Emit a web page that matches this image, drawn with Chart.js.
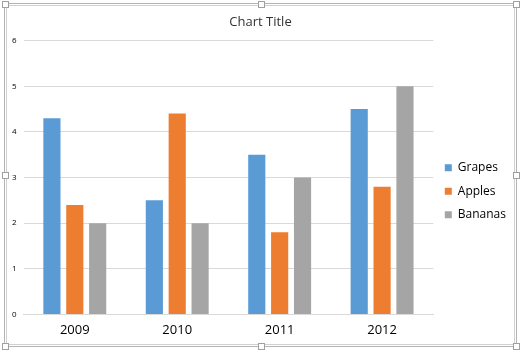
<!DOCTYPE html>
<html>
<head>
<meta charset="utf-8">
<script src="https://cdn.jsdelivr.net/npm/chart.js@4.4.1/dist/chart.umd.min.js"></script>
<style>
  html, body { margin: 0; padding: 0; background: #fff; }
  .chart-container { position: relative; width: 522px; height: 351px; }
</style>
</head>
<body>
<div class="chart-container">
  <canvas id="myChart" width="522" height="351"></canvas>
</div>
<script>
  var years = ["2009", "2010", "2011", "2012"];
  var grapes = [4.3, 2.5, 3.5, 4.5];
  var apples = [2.4, 4.4, 1.8, 2.8];
  var bananas = [2.0, 2.0, 3.0, 5.0];
  var yTicks = [0, 1, 2, 3, 4, 5, 6];

  var font = "'Open Sans', 'Liberation Sans', sans-serif";

  // Excel-style selection frame with handles
  var selectionFrame = {
    id: "selectionFrame",
    afterDraw: function (chart) {
      var ctx = chart.ctx;
      ctx.save();
      ctx.strokeStyle = "#b4b4b4";
      ctx.lineWidth = 1;
      ctx.strokeRect(4.5, 3.5, 512, 343);
      ctx.strokeStyle = "#d0d0d0";
      ctx.strokeRect(6.5, 5.5, 508, 339);
      var handles = [
        [5, 4], [261, 4], [516, 4],
        [5, 175], [516, 175],
        [5, 346], [261, 346], [516, 346]
      ];
      handles.forEach(function (h) {
        ctx.fillStyle = "#ffffff";
        ctx.fillRect(h[0] - 3, h[1] - 3, 7, 7);
        ctx.strokeStyle = "#a0a0a0";
        ctx.strokeRect(h[0] - 2.5, h[1] - 2.5, 6, 6);
      });
      ctx.restore();
    }
  };

  var ctx = document.getElementById("myChart").getContext("2d");
  var config = {
    type: "bar",
    data: {
      labels: years,
      datasets: [
        { label: "Grapes", data: grapes, backgroundColor: "#5b9bd5" },
        { label: "Apples", data: apples, backgroundColor: "#ed7d31" },
        { label: "Bananas", data: bananas, backgroundColor: "#a5a5a5" }
      ]
    },
    options: {
      responsive: false,
      animation: false,
      layout: { padding: { left: 5, right: 6, top: 14, bottom: 5 } },
      datasets: {
        bar: { categoryPercentage: 0.67, barPercentage: 0.75 }
      },
      scales: {
        x: {
          grid: { display: false, drawTicks: false },
          border: { display: true, color: "#d9d9d9" },
          ticks: { color: "#000", font: { family: font, size: 13 }, padding: 8 }
        },
        y: {
          min: 0,
          max: 6,
          afterBuildTicks: function (axis) {
            axis.ticks = yTicks.map(function (v) { return { value: v }; });
          },
          grid: { color: "#d9d9d9", drawTicks: false },
          border: { display: false },
          ticks: { color: "#000", font: { family: font, size: 8 }, padding: 7 }
        }
      },
      plugins: {
        title: {
          display: true,
          text: "Chart Title",
          color: "#333",
          font: { family: font, size: 13, weight: "normal" },
          padding: { top: 0, bottom: 11 }
        },
        legend: {
          position: "right",
          title: {
            display: true,
            text: " ",
            font: { family: font, size: 12 },
            padding: 4
          },
          labels: {
            boxWidth: 7,
            boxHeight: 7,
            padding: 11.5,
            color: "#000",
            font: { family: font, size: 12 }
          }
        },
        tooltip: { enabled: false }
      }
    },
    plugins: [selectionFrame]
  };
  var myChart = new Chart(ctx, config);
</script>
</body>
</html>
